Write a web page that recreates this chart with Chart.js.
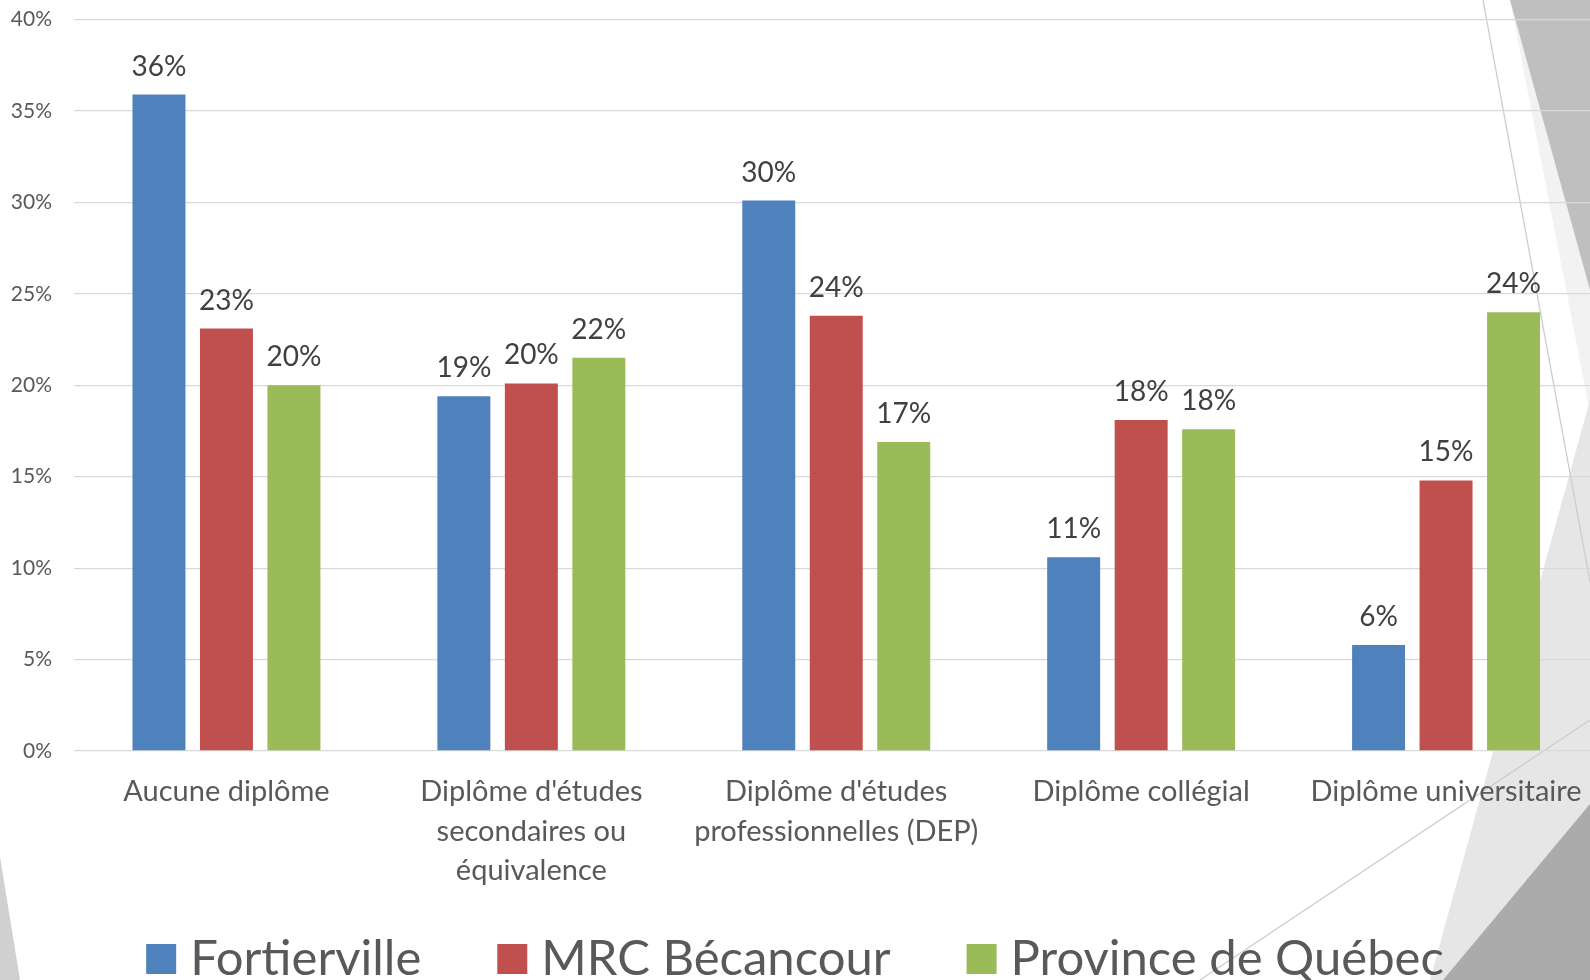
<!DOCTYPE html>
<html lang="fr">
<head>
<meta charset="utf-8">
<title>Plus haut diplôme obtenu</title>
<script src="https://cdn.jsdelivr.net/npm/chart.js@4.4.1/dist/chart.umd.min.js"></script>
<style>
    html, body { margin: 0; padding: 0; background: #fff; overflow: hidden; }
    #cadre { position: relative; width: 1590px; height: 980px; overflow: hidden; }
    #decor { position: absolute; left: 0; top: 0; }
    /* le canevas déborde un peu en haut : l'axe réserve de la place pour l'étiquette 40% */
    #graphique { position: absolute; left: 0; top: -15px; }
</style>
</head>
<body>
<div id="cadre">
    <!-- formes du thème de la diapositive (décor, pas des données) -->
    <svg id="decor" width="1590" height="980" viewBox="0 0 1590 980">
        <polygon points="1510,0 1590,0 1590,413" fill="#f2f2f2"/>
        <polygon points="1510,0 1590,0 1590,290" fill="#bfbfbf"/>
        <polygon points="1590,400 1590,980 1430,980" fill="#e6e6e6"/>
        <polygon points="1590,804 1590,980 1443,980" fill="#ababab"/>
        <polygon points="0,857 20,980 0,980" fill="#d0d0d0"/>
        <line x1="1483" y1="0" x2="1590" y2="582" stroke="#cdcdcd" stroke-width="1.3"/>
        <line x1="1590" y1="720" x2="1200" y2="980" stroke="#cdcdcd" stroke-width="1.3"/>
    </svg>
    <canvas id="graphique" width="1600" height="995"></canvas>
</div>
<script>
// ====================================================================
// Données : plus haut diplôme obtenu (en %)
// ====================================================================
const categories = [
    'Aucune diplôme',
    ['Diplôme d\'études', 'secondaires ou', 'équivalence'],
    ['Diplôme d\'études', 'professionnelles (DEP)'],
    'Diplôme collégial',
    'Diplôme universitaire'
];
const fortierville = [35.9, 19.4, 30.1, 10.6, 5.8];
const mrcBecancour = [23.1, 20.1, 23.8, 18.1, 14.8];
const provinceQuebec = [20.0, 21.5, 16.9, 17.6, 24.0];
const nomsSeries = ['Fortierville', 'MRC Bécancour', 'Province de Québec'];
const couleurs = ['#4f81bd', '#c0504d', '#9bbb59'];
const ticksY = [0, 5, 10, 15, 20, 25, 30, 35, 40];

const POLICE = 'Lato, "Noto Sans", sans-serif';
const DECALAGE = 15; // décalage vertical du canevas dans la page

// Étiquettes de valeur au-dessus des barres
const etiquettesValeurs = {
    id: 'etiquettesValeurs',
    afterDatasetsDraw(chart) {
        const ctx = chart.ctx;
        ctx.save();
        ctx.font = '28px ' + POLICE;
        ctx.fillStyle = '#404040';
        ctx.textAlign = 'center';
        ctx.textBaseline = 'alphabetic';
        chart.data.datasets.forEach((ds, i) => {
            chart.getDatasetMeta(i).data.forEach((barre, j) => {
                ctx.fillText(Math.round(ds.data[j]) + '%', barre.x, barre.y - 19);
            });
        });
        ctx.restore();
    }
};

// Légende dessinée à la main (carrés + texte, centrée en bas)
const legendeBas = {
    id: 'legendeBas',
    afterDraw(chart) {
        const ctx = chart.ctx;
        const carre = 30, ecartTexte = 14, ecartItems = 76;
        ctx.save();
        ctx.font = '49px ' + POLICE;
        ctx.textBaseline = 'alphabetic';
        const largeurs = chart.data.datasets.map(ds => ctx.measureText(ds.label).width);
        const total = largeurs.reduce((a, w) => a + carre + ecartTexte + w, 0) + ecartItems * (largeurs.length - 1);
        let x = (1590 - total) / 2;
        chart.data.datasets.forEach((ds, i) => {
            ctx.fillStyle = ds.backgroundColor;
            ctx.fillRect(x, 944 + DECALAGE, carre, carre);
            ctx.fillStyle = '#595959';
            ctx.fillText(ds.label, x + carre + ecartTexte, 975 + DECALAGE);
            x += carre + ecartTexte + largeurs[i] + ecartItems;
        });
        ctx.restore();
    }
};

const series = [fortierville, mrcBecancour, provinceQuebec];

const chartDiplomes = new Chart(document.getElementById('graphique').getContext('2d'), {
    type: 'bar',
    data: {
        labels: categories,
        datasets: series.map((valeurs, i) => ({
            label: nomsSeries[i],
            data: valeurs,
            backgroundColor: couleurs[i],
            borderWidth: 0,
            categoryPercentage: 0.664,
            barPercentage: 0.785
        }))
    },
    options: {
        responsive: false,
        animation: false,
        devicePixelRatio: 1,
        layout: {
            padding: { top: 3.5, right: 1.5, bottom: 0, left: 0 }
        },
        plugins: {
            legend: { display: false },
            tooltip: { enabled: false }
        },
        scales: {
            x: {
                grid: { display: false },
                border: { display: false },
                ticks: {
                    color: '#595959',
                    font: { family: POLICE, size: 29, lineHeight: 1.36 },
                    padding: 13,
                    maxRotation: 0,
                    autoSkip: false
                },
                afterFit(scale) { scale.height = 229; }
            },
            y: {
                min: 0,
                max: 40,
                afterBuildTicks(scale) { scale.ticks = ticksY.map(v => ({ value: v })); },
                grid: { color: '#d9d9d9', lineWidth: 1.3, drawTicks: false },
                border: { display: false },
                ticks: {
                    color: '#595959',
                    font: { family: POLICE, size: 21 },
                    padding: 22,
                    callback: v => v + '%'
                },
                afterFit(scale) { scale.width = 74; }
            }
        }
    },
    plugins: [etiquettesValeurs, legendeBas]
});
</script>
</body>
</html>
